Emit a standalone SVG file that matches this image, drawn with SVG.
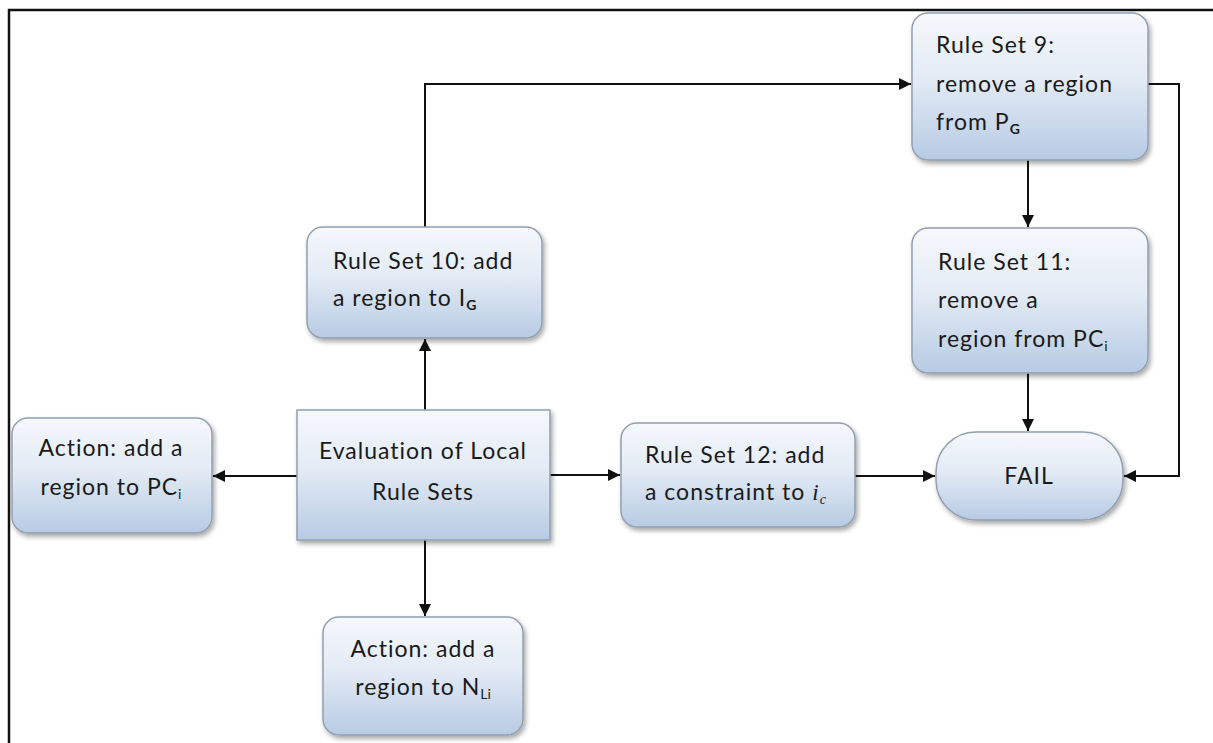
<svg xmlns="http://www.w3.org/2000/svg" width="1213" height="743" viewBox="0 0 1213 743">
  <defs>
    <linearGradient id="boxFill" x1="0" y1="0" x2="0" y2="1">
      <stop offset="0" stop-color="#f6f8fc"/>
      <stop offset="0.45" stop-color="#e3ebf5"/>
      <stop offset="1" stop-color="#b7cbe4"/>
    </linearGradient>
    <filter id="shadow" x="-10%" y="-10%" width="125%" height="130%">
      <feGaussianBlur in="SourceAlpha" stdDeviation="2.5"/>
      <feOffset dx="2" dy="3" result="off"/>
      <feComponentTransfer><feFuncA type="linear" slope="0.35"/></feComponentTransfer>
      <feMerge><feMergeNode/><feMergeNode in="SourceGraphic"/></feMerge>
    </filter>
    <marker id="arrow" markerUnits="userSpaceOnUse" markerWidth="14" markerHeight="14" refX="12" refY="6" orient="auto">
      <path d="M0,0 L12,6 L0,12 Z" fill="#111"/>
    </marker>
    <style>
      .box { fill: url(#boxFill); stroke: #939fae; stroke-width: 1.5; filter: url(#shadow); }
      .lbl { font-family: "Lato", "Open Sans", "Liberation Sans", sans-serif; font-size: 23px; letter-spacing: 1px; fill: #1a1a1a; }
      .mid { text-anchor: middle; }
      .sub { font-size: 14px; font-weight: bold; letter-spacing: 0; }
      .subr { font-size: 14px; letter-spacing: 0; }
      .edge { fill: none; stroke: #111; stroke-width: 2; marker-end: url(#arrow); }
      .frame { fill: none; stroke: #111; stroke-width: 2.5; }
    </style>
  </defs>

  <rect width="1213" height="743" fill="#ffffff"/>
  <!-- outer frame (left and top edges) -->
  <path class="frame" d="M9,743 V10 H1213"/>

  <g id="connectors">
    <path class="edge" d="M425,410 V339"/>
    <path class="edge" d="M425,227 V84 H911"/>
    <path class="edge" d="M1148,84 H1179 V476 H1124"/>
    <path class="edge" d="M1028,160 V227"/>
    <path class="edge" d="M1028,373 V431"/>
    <path class="edge" d="M297,476 H213"/>
    <path class="edge" d="M550,475 H620"/>
    <path class="edge" d="M855,476 H935"/>
    <path class="edge" d="M425,540 V616"/>
  </g>

  <g id="rule-set-9">
    <rect class="box" x="912" y="13" width="236" height="147" rx="16"/>
    <text class="lbl" x="936" y="53">Rule Set 9:</text>
    <text class="lbl" x="936" y="92">remove a region</text>
    <text class="lbl" x="936" y="130">from P<tspan class="sub" dy="4">G</tspan></text>
  </g>

  <g id="rule-set-10">
    <rect class="box" x="307" y="227" width="235" height="111" rx="16"/>
    <text class="lbl" x="333" y="269">Rule Set 10: add</text>
    <text class="lbl" x="333" y="306">a region to I<tspan class="sub" dy="4">G</tspan></text>
  </g>

  <g id="rule-set-11">
    <rect class="box" x="912" y="228" width="236" height="145" rx="16"/>
    <text class="lbl" x="938" y="270">Rule Set 11:</text>
    <text class="lbl" x="938" y="308">remove a</text>
    <text class="lbl" x="938" y="347">region from PC<tspan class="subr" dy="4">i</tspan></text>
  </g>

  <g id="action-pc">
    <rect class="box" x="12" y="418" width="200" height="115" rx="16"/>
    <text class="lbl mid" x="111" y="456">Action: add a</text>
    <text class="lbl mid" x="111" y="495">region to PC<tspan class="subr" dy="4">i</tspan></text>
  </g>

  <g id="evaluation">
    <rect class="box" x="297" y="410" width="253" height="130"/>
    <text class="lbl mid" x="423" y="459">Evaluation of Local</text>
    <text class="lbl mid" x="423" y="500">Rule Sets</text>
  </g>

  <g id="rule-set-12">
    <rect class="box" x="621" y="423" width="234" height="104" rx="16"/>
    <text class="lbl" x="645" y="463">Rule Set 12: add</text>
    <text class="lbl" x="645" y="500">a constraint to <tspan font-family="Liberation Serif, serif" font-style="italic">i</tspan><tspan class="subr" font-family="Liberation Serif, serif" font-style="italic" dy="4">c</tspan></text>
  </g>

  <g id="fail">
    <rect class="box" x="936" y="432" width="187" height="88" rx="40"/>
    <text class="lbl mid" x="1029" y="484">FAIL</text>
  </g>

  <g id="action-nli">
    <rect class="box" x="323" y="617" width="200" height="118" rx="16"/>
    <text class="lbl mid" x="423" y="657">Action: add a</text>
    <text class="lbl mid" x="423" y="695">region to N<tspan class="subr" dy="4">Li</tspan></text>
  </g>
</svg>
